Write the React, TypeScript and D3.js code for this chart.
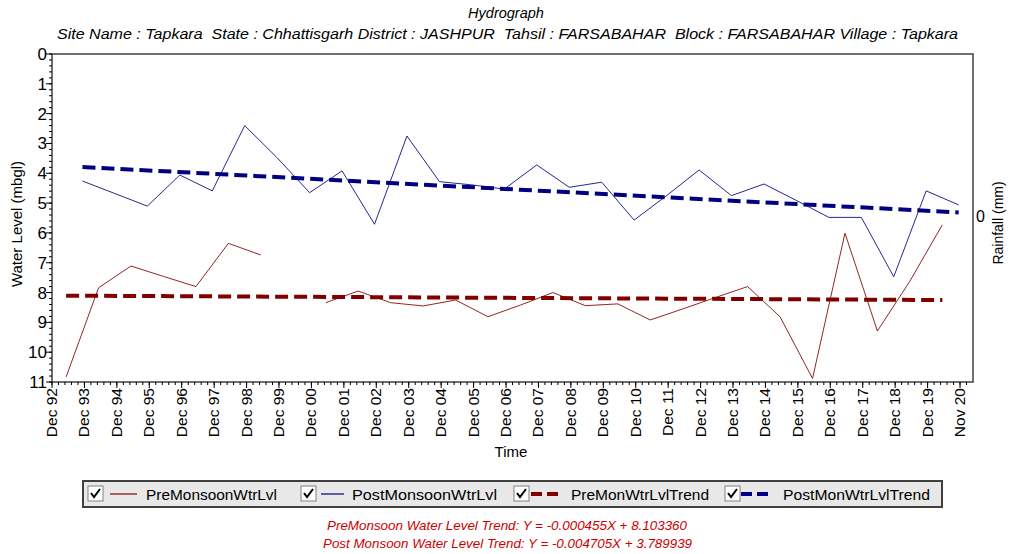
import React from "react";
import * as d3 from "d3";

// ---- data ----
const preYears = [1993, 1994, 1995, 1996, 1997, 1998, 1999, 2000, 2001, 2002, 2003, 2004, 2005, 2006, 2007, 2008, 2009, 2010, 2011, 2012, 2013, 2014, 2015, 2016, 2017, 2018, 2019, 2020];
const preValues: (number | null)[] = [10.83, 7.84, 7.11, 7.46, 7.8, 6.35, 6.74, null, 8.34, 7.95, 8.34, 8.45, 8.25, 8.81, 8.42, 8.0, 8.44, 8.38, 8.92, 8.55, 8.17, 7.8, 8.81, 10.88, 6.01, 9.29, 7.62, 5.73];
const postYears = [1993, 1994, 1995, 1996, 1997, 1998, 1999, 2000, 2001, 2002, 2003, 2004, 2005, 2006, 2007, 2008, 2009, 2010, 2011, 2012, 2013, 2014, 2015, 2016, 2017, 2018, 2019, 2020];
const postValues: (number | null)[] = [4.26, 4.68, 5.1, 4.06, 4.59, 2.4, 3.48, 4.65, 3.92, 5.71, 2.75, 4.28, 4.39, 4.53, 3.72, 4.47, 4.3, 5.57, 4.75, 3.89, 4.75, 4.36, 4.91, 5.48, 5.48, 7.47, 4.59, 5.06];

const preTrendSlope = -0.000455;
const preTrendIntercept = 8.10336;
const postTrendSlope = -0.004705;
const postTrendIntercept = 3.789939;

const yTickValues = [0, 1, 2, 3, 4, 5, 6, 7, 8, 9, 10, 11];
const legendNames = ["PreMonsoonWtrLvl", "PostMonsoonWtrLvl", "PreMonWtrLvlTrend", "PostMonWtrLvlTrend"];

const title = "Hydrograph";
const subtitle = "Site Name : Tapkara  State : Chhattisgarh District : JASHPUR  Tahsil : FARSABAHAR  Block : FARSABAHAR Village : Tapkara";
const eq1 = "PreMonsoon Water Level Trend: Y = -0.000455X + 8.103360";
const eq2 = "Post Monsoon Water Level Trend: Y = -0.004705X + 3.789939";

const W = 1010, H = 554;
const left = 52, right = 973, top = 54, bottom = 382;
const FONT = "'Liberation Sans', Arial, sans-serif";
const PRE = "#800000";
const POST = "#000080";

export default function App() {
  const start = new Date(1992, 11, 7);
  const end = d3.timeDay.offset(start, 10366);
  const x = d3.scaleTime().domain([start, end]).range([left, right]);
  const y = d3.scaleLinear().domain([0, 11]).range([top, bottom]);

  const majorTicks = d3.range(0, 29).map((n) => d3.timeDay.offset(start, 365 * n));
  const minorTicks = d3.range(0, 142).map((n) => d3.timeDay.offset(start, 73 * n));
  const fmt = d3.timeFormat("%b %y");
  const yMinor = d3.range(0, 11.001, 0.2);

  const pre = preYears.map((yr, i) => ({ d: new Date(yr, 4, 15), v: preValues[i] }));
  const post = postYears.map((yr, i) => ({ d: new Date(yr, 10, 15), v: postValues[i] }));

  const line = d3
    .line<{ d: Date; v: number | null }>()
    .defined((p) => p.v !== null)
    .x((p) => x(p.d))
    .y((p) => y(p.v as number));

  const trend = (series: { d: Date; v: number | null }[], slope: number, intercept: number) => {
    const first = series[0].d;
    const last = series[series.length - 1].d;
    const months = d3.timeMonth.count(first, last);
    return [
      { d: first, v: intercept - slope * 0 },
      { d: last, v: intercept - slope * months },
    ];
  };
  const preTrend = trend(pre, preTrendSlope, preTrendIntercept);
  const postTrend = trend(post, postTrendSlope, postTrendIntercept);

  const check = (cx: number, cy: number) => (
    <g>
      <rect x={cx} y={cy} width={15} height={15} fill="#fff" stroke="#808080" strokeWidth={1} />
      <path d={`M${cx + 3},${cy + 7} L${cx + 6},${cy + 11} L${cx + 12},${cy + 3}`} fill="none" stroke="#000" strokeWidth={2} />
    </g>
  );

  const legendItems = [
    { x: 88, color: PRE, dashed: false, lx1: 110, lx2: 137, tx: 146, tl: 131 },
    { x: 301, color: POST, dashed: false, lx1: 321, lx2: 344, tx: 352, tl: 145 },
    { x: 514, color: PRE, dashed: true, lx1: 531, lx2: 563, tx: 571, tl: 138 },
    { x: 725, color: POST, dashed: true, lx1: 741, lx2: 773, tx: 783, tl: 147 },
  ];

  return (
    <svg width={W} height={H} style={{ position: "absolute", left: 0, top: 0, background: "#fff" }} fontFamily={FONT}>
      <rect x={0} y={0} width={W} height={H} fill="#fff" />
      <text x={506} y={18} textAnchor="middle" fontSize={14.5} fontStyle="italic" fill="#000">{title}</text>
      <text x={57} y={39} fontSize={15.5} fontStyle="italic" fill="#000" textLength={901} lengthAdjust="spacingAndGlyphs" style={{ whiteSpace: "pre" }}>{subtitle}</text>

      {/* plot border */}
      <rect x={left} y={top} width={right - left} height={bottom - top} fill="none" stroke="#404040" strokeWidth={1.5} />

      {/* y axis ticks */}
      {yMinor.map((v, i) => (
        <line key={"ym" + i} x1={left - 3} x2={left} y1={y(v)} y2={y(v)} stroke="#000" strokeWidth={1} />
      ))}
      {yTickValues.map((v) => (
        <g key={"y" + v}>
          <line x1={left - 6} x2={left} y1={y(v)} y2={y(v)} stroke="#000" strokeWidth={1} />
          <text x={left - 5} y={y(v) + 6} textAnchor="end" fontSize={17} fill="#000">{v}</text>
        </g>
      ))}

      {/* x axis ticks */}
      {minorTicks.map((d, i) => (
        <line key={"xm" + i} x1={x(d)} x2={x(d)} y1={bottom} y2={bottom + 3} stroke="#000" strokeWidth={1} />
      ))}
      {majorTicks.map((d, i) => (
        <g key={"x" + i}>
          <line x1={x(d)} x2={x(d)} y1={bottom} y2={bottom + 6} stroke="#000" strokeWidth={1} />
          <text transform={`translate(${x(d) + 5},${bottom + 6}) rotate(-90)`} textAnchor="end" fontSize={15.5} fill="#000">{fmt(d)}</text>
        </g>
      ))}

      {/* axis titles */}
      <text transform={`translate(22,224) rotate(-90)`} textAnchor="middle" fontSize={15} fill="#000">Water Level (mbgl)</text>
      <text x={511} y={457} textAnchor="middle" fontSize={15} fill="#000">Time</text>
      <text transform={`translate(1003,223) rotate(-90)`} textAnchor="middle" fontSize={14} fill="#000">Rainfall (mm)</text>
      <text x={976} y={222} fontSize={16} fill="#000">0</text>

      {/* data */}
      <path d={line(pre) || ""} fill="none" stroke={PRE} strokeWidth={1} opacity={0.85} />
      <path d={line(post) || ""} fill="none" stroke={POST} strokeWidth={1} opacity={0.85} />
      <path d={line(preTrend) || ""} fill="none" stroke={PRE} strokeWidth={4} strokeDasharray="13,6" />
      <path d={line(postTrend) || ""} fill="none" stroke={POST} strokeWidth={4} strokeDasharray="13,6" />

      {/* legend */}
      <rect x={83} y={481} width={859} height={26} fill="#e8e8e8" stroke="#404040" strokeWidth={2} />
      {legendItems.map((it, i) => (
        <g key={"lg" + i}>
          {check(it.x, 486)}
          <line x1={it.lx1} x2={it.lx2} y1={494} y2={494} stroke={it.color} strokeWidth={it.dashed ? 4 : 1.2} strokeDasharray={it.dashed ? "11,5" : undefined} />
          <text x={it.tx} y={500} fontSize={15.5} fill="#000" textLength={it.tl} lengthAdjust="spacingAndGlyphs">{legendNames[i]}</text>
        </g>
      ))}

      <text x={327} y={530} fontSize={13} fontStyle="italic" fill="#cc0000" textLength={360} lengthAdjust="spacingAndGlyphs">{eq1}</text>
      <text x={323} y={548} fontSize={13} fontStyle="italic" fill="#cc0000" textLength={369} lengthAdjust="spacingAndGlyphs">{eq2}</text>
    </svg>
  );
}
